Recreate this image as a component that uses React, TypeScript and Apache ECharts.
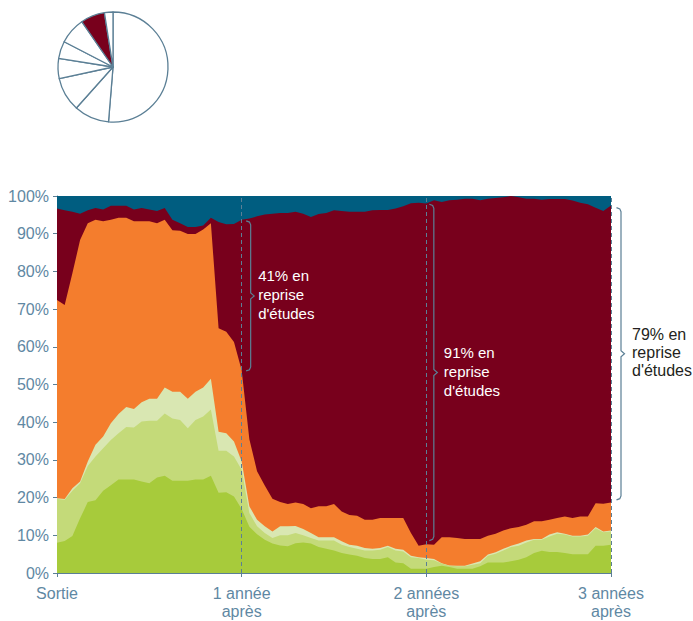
import React, { useEffect, useRef } from "react";
import * as echarts from "echarts";

// x axis: half-month steps from "Sortie" to 3 years after
const tickLabels = ["Sortie", "1 année\naprès", "2 années\naprès", "3 années\naprès"];

// cumulative tops of each layer (%)
const greenTop = [8.0, 8.5, 9.8, 14.5, 18.8, 19.3, 21.8, 23.3, 24.8, 24.8, 24.8, 24.3, 23.8, 25.3, 25.8, 24.5, 24.5, 24.5, 24.8, 24.8, 25.8, 21.3, 21.4, 20.3, 17.0, 12.3, 10.3, 8.8, 7.8, 7.3, 7.1, 7.9, 8.1, 7.8, 6.9, 6.4, 6.0, 5.3, 4.9, 4.6, 4.0, 3.7, 3.7, 4.2, 2.8, 2.6, 1.1, 1.1, 1.1, 1.6, 1.9, 1.6, 1.1, 1.1, 1.1, 1.8, 2.8, 2.8, 2.8, 3.1, 3.5, 4.2, 5.3, 5.9, 5.6, 5.6, 5.3, 5.0, 5.0, 5.0, 7.2, 7.2, 7.5];
const lightGreenTop = [19.6, 19.4, 21.8, 23.8, 28.4, 30.9, 33.1, 35.3, 37.1, 38.7, 38.6, 40.2, 40.4, 40.4, 42.3, 41.0, 40.6, 38.4, 40.6, 41.5, 43.4, 32.4, 32.4, 30.9, 27.4, 15.9, 12.4, 10.6, 9.3, 10.0, 10.0, 10.6, 10.0, 9.3, 8.6, 8.6, 8.6, 7.5, 6.9, 6.4, 6.0, 6.0, 6.2, 6.9, 6.0, 5.7, 4.2, 4.0, 3.5, 3.4, 2.5, 1.9, 1.8, 1.8, 2.2, 2.6, 4.6, 5.1, 6.0, 6.9, 7.2, 8.1, 8.8, 8.8, 9.7, 10.4, 10.2, 9.7, 9.7, 9.9, 11.9, 10.8, 11.0];
const paleGreenTop = [19.8, 19.6, 22.5, 24.3, 29.6, 34.0, 36.2, 39.7, 42.2, 44.0, 43.5, 45.3, 46.2, 46.2, 49.2, 48.1, 48.1, 46.2, 48.1, 49.2, 51.5, 37.5, 37.1, 34.9, 29.6, 17.7, 14.1, 12.4, 11.0, 12.4, 12.4, 12.5, 11.7, 10.6, 9.5, 9.5, 9.5, 8.4, 7.5, 7.2, 6.6, 6.4, 6.6, 7.2, 6.4, 6.2, 4.6, 4.2, 4.0, 3.7, 2.6, 2.0, 1.9, 1.9, 2.5, 3.1, 4.9, 5.5, 6.4, 7.2, 7.8, 8.6, 9.0, 9.0, 10.2, 10.8, 10.4, 9.9, 9.9, 10.2, 12.2, 11.0, 11.3];
const orangeTop = [72.4, 71.1, 79.5, 88.3, 92.8, 93.7, 93.3, 93.7, 94.2, 94.2, 93.3, 93.3, 93.3, 92.8, 93.7, 90.9, 90.8, 89.9, 89.9, 91.1, 92.8, 64.9, 64.0, 61.3, 53.8, 35.5, 27.0, 23.2, 19.7, 18.8, 18.3, 18.7, 18.3, 17.2, 17.7, 17.7, 18.3, 16.3, 15.4, 15.2, 14.1, 14.1, 14.6, 14.6, 14.6, 14.6, 10.6, 7.2, 7.6, 7.5, 9.5, 9.5, 9.3, 9.0, 9.0, 9.0, 9.9, 10.4, 11.3, 11.9, 12.2, 12.8, 13.7, 13.7, 14.1, 14.6, 15.0, 14.6, 15.0, 15.0, 18.5, 18.4, 18.7];
const darkRedTop = [96.7, 96.2, 95.8, 95.3, 96.2, 96.8, 96.4, 97.4, 97.4, 97.4, 96.4, 96.8, 96.4, 96.0, 96.8, 93.7, 92.8, 91.8, 91.8, 92.2, 94.2, 93.1, 92.5, 92.6, 93.7, 94.0, 94.6, 95.1, 95.3, 95.5, 95.5, 95.8, 95.3, 94.4, 95.2, 95.5, 96.2, 96.0, 95.8, 95.8, 95.8, 96.2, 96.3, 96.3, 96.7, 97.3, 98.1, 98.2, 98.0, 98.9, 98.4, 98.9, 99.0, 99.3, 99.3, 98.9, 99.3, 99.5, 99.7, 100.0, 99.7, 99.3, 99.3, 99.0, 99.2, 99.2, 99.2, 98.8, 98.2, 97.8, 96.9, 96.0, 97.5];
const totalTop = 100;

// small pie (shares in %), one highlighted slice
const pieShares = [51.3, 10.3, 10.0, 5.9, 5.1, 7.8, 7.1, 2.5];
const pieHighlightIndex = 6;

// braces: month, bottom %, top %, text
const braceMonths = [12, 24, 36];
const braceFrom = [53.6, 8.6, 19.4];
const braceTo = [93.4, 97.8, 96.9];
const braceTexts = ["41% en\nreprise\nd'études", "91% en\nreprise\nd'études", "79% en\nreprise\nd'études"];

// styles
const COLORS = {
  teal: "#005d80",
  darkRed: "#78001c",
  orange: "#f47d2d",
  paleGreen: "#d9e7b2",
  lightGreen: "#c4da79",
  green: "#a7cb3b",
  axis: "#5f88a3",
  line: "#5b7f95",
};
const FONT = "'Liberation Sans', Arial, Helvetica, sans-serif";
const braceDx = [9, 7.5, 10];
const textDx = [7.5, 10, 11];
const textColors = ["#ffffff", "#ffffff", "#231f20"];
const textSizes = [15, 15, 16];

export default function App() {
  const ref = useRef<HTMLDivElement>(null);

  useEffect(() => {
    if (!ref.current) return;
    const chart = echarts.init(ref.current, undefined, { renderer: "svg" });
    const months = greenTop.map((_, i) => i * 0.5);
    const pair = (arr: number[]) => arr.map((v, i) => [months[i], v]);
    const area = (name: string, arr: number[], color: string, extra: any = {}) => ({
      name,
      type: "line",
      data: pair(arr),
      symbol: "none",
      lineStyle: { width: 0 },
      areaStyle: { color, opacity: 1 },
      itemStyle: { color },
      silent: true,
      ...extra,
    });

    chart.setOption({
      animation: false,
      grid: { left: 57, right: 82, top: 196, bottom: 48, containLabel: false },
      xAxis: {
        type: "value",
        min: 0,
        max: 36,
        interval: 12,
        axisLine: { show: true, lineStyle: { color: COLORS.line, width: 1 } },
        axisTick: { show: true, length: 7, lineStyle: { color: COLORS.line, type: [4, 3] } },
        splitLine: { show: false },
        axisLabel: {
          color: COLORS.axis,
          fontFamily: FONT,
          fontSize: 16,
          lineHeight: 18,
          margin: 11,
          formatter: (v: number) => tickLabels[Math.round(v / 12)] ?? "",
        },
      },
      yAxis: {
        type: "value",
        min: 0,
        max: 100,
        interval: 10,
        axisLine: { show: true, lineStyle: { color: COLORS.line, width: 1 } },
        axisTick: { show: true, length: 4, lineStyle: { color: COLORS.line } },
        splitLine: { show: false },
        axisLabel: {
          color: COLORS.axis,
          fontFamily: FONT,
          fontSize: 16,
          margin: 8,
          formatter: "{value}%",
        },
      },
      series: [
        area("total", months.map(() => totalTop), COLORS.teal),
        area("darkRed", darkRedTop, COLORS.darkRed),
        area("orange", orangeTop, COLORS.orange),
        area("paleGreen", paleGreenTop, COLORS.paleGreen),
        area("lightGreen", lightGreenTop, COLORS.lightGreen),
        area("green", greenTop, COLORS.green, {
          markLine: {
            silent: true,
            symbol: "none",
            label: { show: false },
            lineStyle: { color: COLORS.line, type: [4, 3], width: 1 },
            data: braceMonths.map((m) => ({ xAxis: m })),
          },
        }),
        {
          type: "pie",
          center: [113, 67],
          radius: 55,
          startAngle: 90,
          clockwise: true,
          silent: true,
          label: { show: false },
          labelLine: { show: false },
          itemStyle: { borderColor: COLORS.line, borderWidth: 1.3 },
          data: pieShares.map((v, i) => ({
            value: v,
            itemStyle: { color: i === pieHighlightIndex ? COLORS.darkRed : "#ffffff" },
          })),
        },
      ],
    });

    const graphics: any[] = [];
    braceMonths.forEach((m, k) => {
      const [bx0, top] = chart.convertToPixel({ xAxisIndex: 0, yAxisIndex: 0 }, [m, braceTo[k]]) as number[];
      const [, bottom] = chart.convertToPixel({ xAxisIndex: 0, yAxisIndex: 0 }, [m, braceFrom[k]]) as number[];
      const x = bx0 + braceDx[k];
      const mid = (top + bottom) / 2;
      graphics.push({
        type: "polyline",
        silent: true,
        shape: {
          points: [
            [x - 4.5, top],
            [x - 1.2, top + 1.2],
            [x, top + 4],
            [x, mid - 3],
            [x + 3.5, mid],
            [x, mid + 3],
            [x, bottom - 4],
            [x - 1.2, bottom - 1.2],
            [x - 4.5, bottom],
          ],
        },
        style: { stroke: COLORS.line, lineWidth: 1.2, fill: null },
        z: 100,
      });
      graphics.push({
        type: "text",
        silent: true,
        x: bx0 + braceDx[k] + textDx[k],
        y: mid - 1,
        style: {
          text: braceTexts[k],
          fill: textColors[k],
          fontFamily: FONT,
          fontSize: textSizes[k],
          lineHeight: k === 2 ? 18 : 19,
          align: "left",
          verticalAlign: "middle",
        },
        z: 100,
      });
    });
    chart.setOption({ graphic: graphics });

    return () => chart.dispose();
  }, []);

  return (
    <div
      ref={ref}
      style={{ position: "fixed", left: 0, top: 0, width: 693, height: 621, background: "#ffffff" }}
    />
  );
}
